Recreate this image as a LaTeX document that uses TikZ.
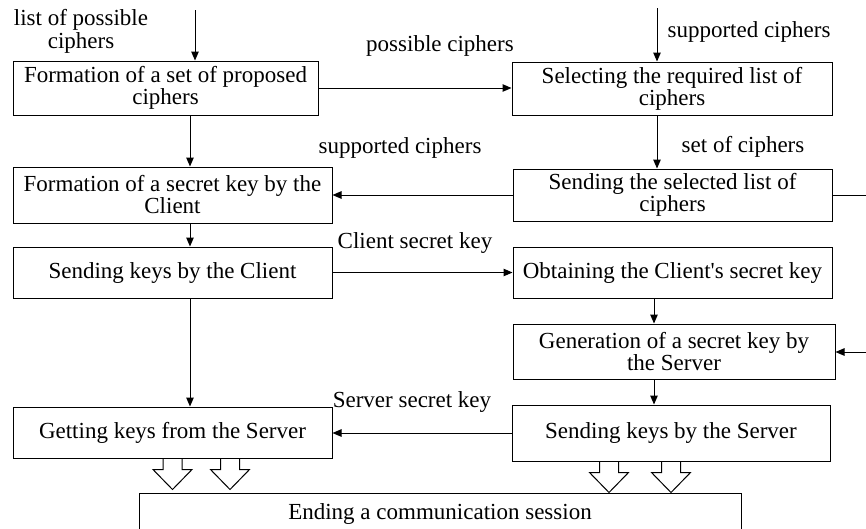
\documentclass[tikz,border=0pt]{standalone}
\usepackage{fontspec}
\setmainfont{Liberation Serif}
\usetikzlibrary{arrows.meta}
% straight apostrophe, bypassing the TeX quote mapping
\newcommand{\sq}{{\XeTeXglyph\XeTeXglyphindex "quotesingle"\relax}}
\tikzset{
  box/.style={draw, line width=1pt, inner sep=0pt, align=center,
    font=\fontsize{23}{22}\selectfont},
  lbl/.style={inner sep=0pt, align=center, font=\fontsize{23}{23}\selectfont},
  flow/.style={line width=1pt, -{Triangle[length=9pt,width=7.5pt]}},
  plain/.style={line width=1pt},
  harrow/.pic={\draw[line width=1pt, line join=miter]
    (-9.5,0) -- (-9.5,11) -- (-19.5,11) -- (0,31) -- (19.5,11) -- (9.5,11) -- (9.5,0);}
}
\begin{document}
\begin{tikzpicture}[x=1pt,y=-1pt]
\useasboundingbox (0,0) rectangle (866,528);
\clip (0,0) rectangle (866,528);

% process boxes
\node[box, minimum width=305, minimum height=54] (b1) at (165.5,88)
  {Formation of a set of proposed\\ciphers};
\node[box, minimum width=320, minimum height=53] (b2) at (672,88.5)
  {Selecting the required list of\\ciphers};
\node[box, minimum width=319, minimum height=56] (b3) at (172.5,195)
  {Formation of a secret key by the\\Client};
\node[box, minimum width=319, minimum height=52] (b4) at (672.5,195)
  {Sending the selected list of\\ciphers};
\node[box, minimum width=319, minimum height=51] (b5) at (172.5,272.5)
  {Sending keys by the Client};
\node[box, minimum width=319, minimum height=51] (b6) at (672.5,272.5)
  {Obtaining the Client\sq s secret key};
\node[box, minimum width=322, minimum height=55] (b7) at (674,351.5)
  {Generation of a secret key by\\the Server};
\node[box, minimum width=318, minimum height=56] (b8) at (671,433)
  {Sending keys by the Server};
\node[box, minimum width=319, minimum height=51] (b9) at (172.5,432.5)
  {Getting keys from the Server};
\node[box, minimum width=602, minimum height=42] (b10) at (440,514)
  {Ending a communication session};

% labels
\node[lbl] (l1) at (81,31) {list of possible\\ciphers};
\node[lbl] (l2) at (440,46) {possible ciphers};
\node[lbl] (l3) at (749,32) {supported ciphers};
\node[lbl] (l4) at (400,148) {supported ciphers};
\node[lbl] (l5) at (743,147) {set of ciphers};
\node[lbl] (l6) at (415,243) {Client secret key};
\node[lbl] (l7) at (412,402) {Server secret key};

% guide coordinates
\coordinate (s1) at (195,10);
\coordinate (s2) at (657,8);
\coordinate (c1) at (190,0);
\coordinate (c2) at (657,0);
\coordinate (c3) at (654,0);
\coordinate (e1) at (866,195);
\coordinate (e2) at (866,352);

% connectors
\draw[flow] (s1) -- (s1 |- b1.north);
\draw[flow] (s2) -- (s2 |- b2.north);
\draw[flow] (b1.east) -- (b1.east -| b2.west);
\draw[flow] (c1 |- b1.south) -- (c1 |- b3.north);
\draw[flow] (c1 |- b3.south) -- (c1 |- b5.north);
\draw[flow] (c1 |- b5.south) -- (c1 |- b9.north);
\draw[flow] (c2 |- b2.south) -- (c2 |- b4.north);
\draw[flow] (b4.west) -- (b4.west -| b3.east);
\draw[plain] (b4.east) -- (e1);
\draw[flow] (e2) -- (e2 -| b7.east);
\draw[flow] (b5.east) -- (b5.east -| b6.west);
\draw[flow] (c3 |- b6.south) -- (c3 |- b7.north);
\draw[flow] (c3 |- b7.south) -- (c3 |- b8.north);
\draw[flow] (b8.west) -- (b8.west -| b9.east);

% hollow arrows into the final box
\pic at (b9.south) {harrow};
\pic at ([xshift=57.5pt]b9.south) {harrow};
\pic at ([xshift=-62pt]b8.south) {harrow};
\pic at (b8.south) {harrow};
\end{tikzpicture}
\end{document}
